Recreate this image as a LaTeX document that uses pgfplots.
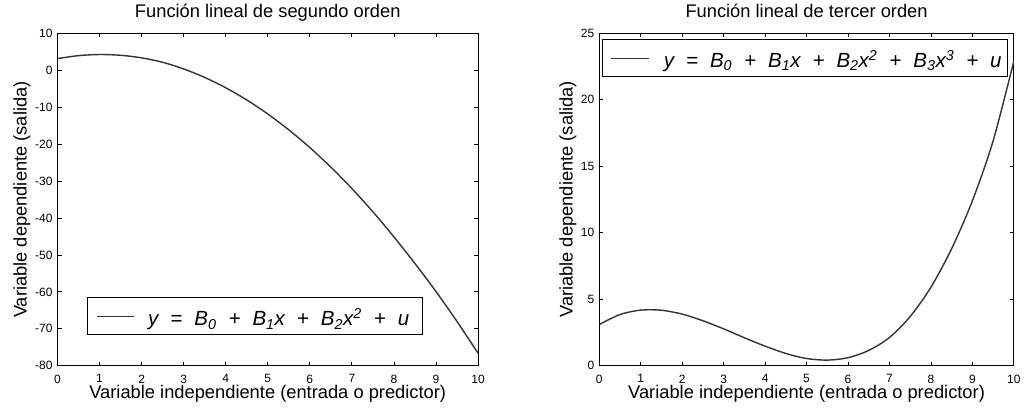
\documentclass[border=0pt]{standalone}
\usepackage{pgfplots}
\pgfplotsset{compat=1.18}
\usepackage{pgfplotstable}
\usepackage{fontspec}
\setmainfont{Liberation Sans}

\definecolor{curve}{HTML}{333333}

% y = B0 + B1 x + B2 x^2 + u
\pgfplotstableread{
x    y
0    3.2
0.5  4.0
1    4.3
1.5  4.1
2    3.4
2.5  2.2
3    0.4
3.5  -1.9
4    -4.7
4.5  -8.0
5    -11.8
5.5  -16.1
6    -20.9
6.5  -26.2
7    -32.0
7.5  -38.3
8    -45.1
8.5  -52.3
9    -59.9
9.5  -68.0
10   -76.6
}\segundo

% y = B0 + B1 x + B2 x^2 + B3 x^3 + u
\pgfplotstableread{
x    y
0    3.1
0.5  3.85
1    4.18
1.5  4.17
2    3.88
2.5  3.38
3    2.77
3.5  2.10
4    1.47
4.5  0.92
5    0.54
5.5  0.42
6    0.60
6.5  1.15
7    2.12
7.5  3.70
8    5.90
8.5  8.80
9    12.40
9.5  16.90
10   22.90
}\tercero

\newcommand{\gp}{\hspace{12pt}}

\pgfplotsset{
  panel/.style={
    scale only axis,
    xmin=0, xmax=10, xtick={0,...,10},
    axis line style={line width=1pt, black},
    tick align=inside, major tick length=4pt,
    tick style={line width=0.8pt, black},
    ticklabel style={font=\fontsize{12}{14}\selectfont},
    /pgf/number format/assume math mode=true,
    xticklabel style={inner sep=0pt, anchor=north, yshift=-8.8pt},
    yticklabel style={inner sep=0pt, anchor=east, xshift=-4.8pt},
    label style={font=\fontsize{18.3}{22}\selectfont},
    title style={font=\fontsize{18.3}{22}\selectfont, at={(axis description cs:0.5,1.0301)}, anchor=base, inner sep=0pt},
    xlabel style={at={(axis description cs:0.5,-0.0975)}, anchor=base, inner sep=0pt},
    xlabel={Variable independiente (entrada o predictor)},
    ylabel={Variable dependiente (salida)},
    legend cell align=left,
    legend style={draw=black, line width=1pt, inner sep=0pt, column sep=0pt,
      nodes={inner sep=0pt, text height=28pt, text depth=9pt},
      font=\fontsize{20.5}{24}\selectfont},
  }
}

\begin{document}
\begin{tikzpicture}
\path[use as bounding box] (0pt,0pt) rectangle (1031pt,411pt);

\begin{axis}[panel,
  at={(57.5pt,45.3pt)}, anchor=south west,
  width=420.5pt, height=332.2pt,
  ymin=-80, ymax=10, ytick={-80,-70,...,10},
  title={Función lineal de segundo orden},
  ylabel style={at={(axis description cs:-0.0733,0.5)}, anchor=base, inner sep=0pt},
  legend style={at={(0.0713,0.0909)}, anchor=south west},
  legend image code/.code={\path[draw=none] (-9.2pt,0pt) -- (51pt,0pt); \draw[#1] (0pt,0pt) -- (37pt,0pt);},
]
\addplot[color=curve, line width=1.4pt, smooth] table {\segundo};
\addlegendentry{\makebox[274pt][l]{\itshape y\gp=\gp B\textsubscript{0}\gp+\gp B\textsubscript{1}x\gp+\gp B\textsubscript{2}x\textsuperscript{2}\gp+\gp u}}
\end{axis}

\begin{axis}[panel,
  at={(599.3pt,45.3pt)}, anchor=south west,
  width=414.5pt, height=332.4pt,
  ymin=0, ymax=25, ytick={0,5,...,25},
  title={Función lineal de tercer orden},
  ylabel style={at={(axis description cs:-0.0644,0.5)}, anchor=base, inner sep=0pt},
  legend style={at={(0.0058,0.982)}, anchor=north west},
  legend image code/.code={\path[draw=none] (-8.3pt,0pt) -- (53.3pt,0pt); \draw[#1] (0pt,0pt) -- (38pt,0pt);},
]
\addplot[color=curve, line width=1.4pt, smooth] table {\tercero};
\addlegendentry{\makebox[343.4pt][l]{\itshape y\gp=\gp B\textsubscript{0}\gp+\gp B\textsubscript{1}x\gp+\gp B\textsubscript{2}x\textsuperscript{2}\gp+\gp B\textsubscript{3}x\textsuperscript{3}\gp+\gp u}}
\end{axis}
\end{tikzpicture}
\end{document}
